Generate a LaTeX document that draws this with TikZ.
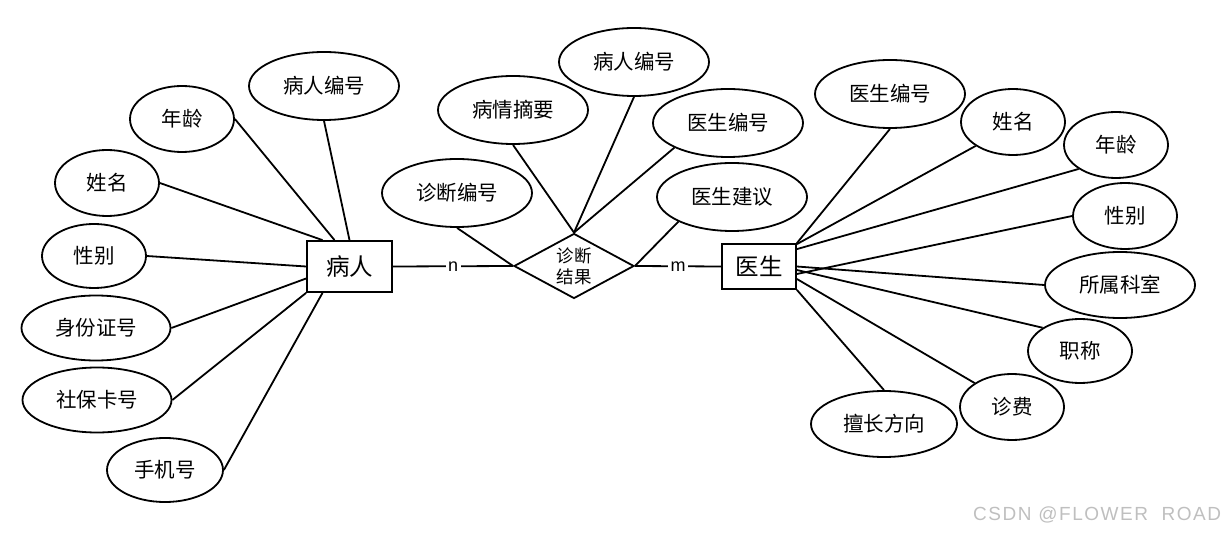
\documentclass[tikz,border=0pt]{standalone}
\usepackage{fontspec}
\setmainfont{Noto Sans CJK SC}
\newfontfamily\lat{Liberation Sans}
\usetikzlibrary{shapes.geometric}
\begin{document}
\begin{tikzpicture}[x=1pt,y=-1pt,
  every node/.style={font=\fontsize{20.5}{24}\selectfont},
  attr/.style={ellipse,draw,line width=1.8pt,inner sep=0pt,minimum width=150pt,minimum height=68pt},
  short/.style={minimum width=104pt,minimum height=66pt},
  ent/.style={rectangle,draw,line width=1.8pt,inner sep=0pt,font=\fontsize{23.5}{28}\selectfont},
  rel/.style={diamond,draw,line width=1.8pt,inner sep=0pt,aspect=1.85,minimum width=120pt,minimum height=65pt,align=center,font=\fontsize{17.5}{21}\selectfont},
  link/.style={line width=1.8pt},
  card/.style={fill=white,inner sep=2.5pt,font=\lat\fontsize{18}{20}\selectfont}]
\useasboundingbox (0,0) rectangle (1228,534);
% entities and relationship
\node[ent,minimum width=85pt,minimum height=51pt] (p) at (349.5,266.5) {病人};
\node[ent,minimum width=74pt,minimum height=45pt] (d) at (759,266.5) {医生};
\node[rel] (r) at (574,266) {诊断\\结果};
% patient attributes
\node[attr] (pid) at (324,86) {病人编号};
\node[attr,short] (page) at (182,119) {年龄};
\node[attr,short] (pname) at (107,183) {姓名};
\node[attr,short,minimum height=64pt] (psex) at (94,256) {性别};
\node[attr,minimum width=149pt,minimum height=65pt] (pcard) at (96,328) {身份证号};
\node[attr,minimum width=149pt,minimum height=65pt] (pins) at (97,400) {社保卡号};
\node[attr,minimum width=116pt,minimum height=64pt] (ptel) at (165,470) {手机号};
% relationship attributes
\node[attr] (did) at (457,193) {诊断编号};
\node[attr] (sum) at (513,110) {病情摘要};
\node[attr] (rpid) at (634,62) {病人编号};
\node[attr] (rdid) at (728,123) {医生编号};
\node[attr] (adv) at (732,197) {医生建议};
% doctor attributes
\node[attr] (did2) at (890,94) {医生编号};
\node[attr,short] (dname) at (1013,122) {姓名};
\node[attr,short] (dage) at (1116,145) {年龄};
\node[attr,short] (dsex) at (1125,216) {性别};
\node[attr,minimum height=66pt] (dept) at (1120,285) {所属科室};
\node[attr,short,minimum height=64pt] (title) at (1080,351) {职称};
\node[attr,short] (fee) at (1012,407) {诊费};
\node[attr,minimum width=146pt,minimum height=66pt] (spec) at (884,424) {擅长方向};
% links patient
\draw[link] (pid.south) -- (p.north);
\draw[link] (page.east) -- ([xshift=-15pt]p.north);
\draw[link] (pname.east) -- ([xshift=-27pt]p.north);
\draw[link] (psex.east) -- (p.west);
\draw[link] (pcard.east) -- ([yshift=-12pt]p.west);
\draw[link] (pins.east) -- (p.south west);
\draw[link] (ptel.east) -- ([xshift=-27pt]p.south);
% links relationship
\draw[link] (did.south) -- (r.west);
\draw[link] (sum.south) -- (r.north);
\draw[link] (rpid.south) -- (r.north);
\draw[link] (rdid.south west) -- (r.north);
\draw[link] (adv.south west) -- (r.east);
\draw[link] (p.east) -- node[card]{n} (r.west);
\draw[link] (r.east) -- node[card]{m} (d.west);
% links doctor
\draw[link] (did2.south) -- (d.north east);
\draw[link] (dname.south west) -- ([yshift=-1pt]d.north east);
\draw[link] (dage.south west) -- ([yshift=-6pt]d.north east);
\draw[link] (dsex.west) -- ([yshift=-7.5pt]d.east);
\draw[link] (dept.west) -- (d.east);
\draw[link] (title.north west) -- ([yshift=-3.5pt]d.east);
\draw[link] (fee.north west) -- ([yshift=-12.5pt]d.east);
\draw[link] (spec.north) -- (d.south east);
% watermark
\node[anchor=west,inner sep=0pt,text=black!25,font=\lat\fontsize{19}{22}\selectfont\addfontfeature{LetterSpace=8}] (wm) at (973,515) {CSDN @FLOWER\ \ ROAD};
\end{tikzpicture}
\end{document}
